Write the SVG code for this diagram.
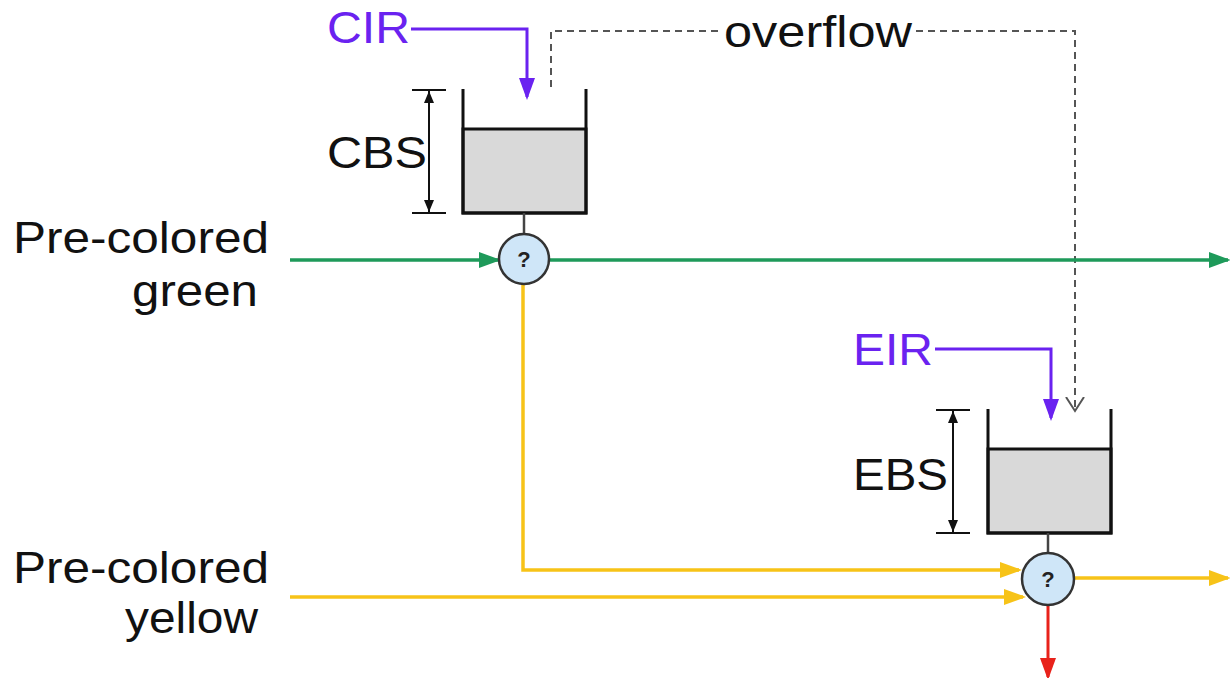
<svg xmlns="http://www.w3.org/2000/svg" width="1230" height="678" viewBox="0 0 1230 678">
  <style>
    .lbl { font-family: "Liberation Sans", Arial, sans-serif; font-size: 44px; fill: #111; }
    .pur { fill: #6a22f0; }
    .q { font-family: "Liberation Sans", Arial, sans-serif; font-size: 22px; font-weight: bold; fill: #222; text-anchor: middle; }
    .wall { fill: none; stroke: #111; stroke-width: 3; }
    .water { fill: #d9d9d9; stroke: #111; stroke-width: 3; }
    .dim { stroke: #111; stroke-width: 2; fill: none; }
    .stem { stroke: #444; stroke-width: 2.5; }
    .node { fill: #cfe6f8; stroke: #333; stroke-width: 2.5; }
    .green { stroke: #1e9a5a; stroke-width: 3.5; fill: none; }
    .yellow { stroke: #f7c318; stroke-width: 3.5; fill: none; }
    .purple { stroke: #6a22f0; stroke-width: 3; fill: none; }
    .red { stroke: #e8221b; stroke-width: 3; fill: none; }
    .dash { stroke: #555; stroke-width: 2; stroke-dasharray: 7 5; fill: none; }
  </style>
  <defs>
    <marker id="ag" markerUnits="userSpaceOnUse" markerWidth="22" markerHeight="16" refX="19" refY="8" orient="auto">
      <path d="M0,0 L22,8 L0,16 z" fill="#1e9a5a"/>
    </marker>
    <marker id="ay" markerUnits="userSpaceOnUse" markerWidth="22" markerHeight="16" refX="19" refY="8" orient="auto">
      <path d="M0,0 L22,8 L0,16 z" fill="#f7c318"/>
    </marker>
    <marker id="ap" markerUnits="userSpaceOnUse" markerWidth="22" markerHeight="16" refX="19" refY="8" orient="auto">
      <path d="M0,0 L22,8 L0,16 z" fill="#6a22f0"/>
    </marker>
    <marker id="ar" markerUnits="userSpaceOnUse" markerWidth="22" markerHeight="16" refX="19" refY="8" orient="auto">
      <path d="M0,0 L22,8 L0,16 z" fill="#e8221b"/>
    </marker>
    <marker id="ad" markerUnits="userSpaceOnUse" markerWidth="12" markerHeight="10" refX="12" refY="5" orient="auto-start-reverse">
      <path d="M0,0 L12,5 L0,10 z" fill="#111"/>
    </marker>
    <marker id="ao" markerUnits="userSpaceOnUse" markerWidth="16" markerHeight="20" refX="14" refY="10" orient="auto">
      <path d="M0,1 L14,10 L0,19" fill="none" stroke="#555" stroke-width="2"/>
    </marker>
  </defs>

  <rect width="1230" height="678" fill="#ffffff"/>

  <g id="label-green">
    <text class="lbl" x="13" y="253" textLength="256" lengthAdjust="spacingAndGlyphs">Pre-colored</text>
    <text class="lbl" x="132" y="306" textLength="126" lengthAdjust="spacingAndGlyphs">green</text>
  </g>
  <g id="label-yellow">
    <text class="lbl" x="13" y="583" textLength="256" lengthAdjust="spacingAndGlyphs">Pre-colored</text>
    <text class="lbl" x="125" y="633" textLength="133" lengthAdjust="spacingAndGlyphs">yellow</text>
  </g>

  <g id="cbs-bucket">
    <rect class="water" x="463" y="129" width="123" height="84"/>
    <path class="wall" d="M463,89 V213 H586 V89"/>
    <line class="dim" x1="412" y1="90" x2="446" y2="90"/>
    <line class="dim" x1="412" y1="213" x2="446" y2="213"/>
    <line class="dim" x1="429" y1="91" x2="429" y2="212" marker-start="url(#ad)" marker-end="url(#ad)"/>
    <text class="lbl" x="327" y="168" textLength="100" lengthAdjust="spacingAndGlyphs">CBS</text>
  </g>

  <g id="ebs-bucket">
    <rect class="water" x="988" y="449" width="123" height="84"/>
    <path class="wall" d="M988,409 V533 H1111 V409"/>
    <line class="dim" x1="936" y1="410" x2="970" y2="410"/>
    <line class="dim" x1="936" y1="533" x2="970" y2="533"/>
    <line class="dim" x1="953" y1="411" x2="953" y2="532" marker-start="url(#ad)" marker-end="url(#ad)"/>
    <text class="lbl" x="853" y="490" textLength="95" lengthAdjust="spacingAndGlyphs">EBS</text>
  </g>

  <g id="cir">
    <text class="lbl pur" x="327" y="43" textLength="83" lengthAdjust="spacingAndGlyphs">CIR</text>
  </g>
  <g id="eir">
    <text class="lbl pur" x="853" y="365" textLength="80" lengthAdjust="spacingAndGlyphs">EIR</text>
  </g>
  <g id="overflow-label">
    <text class="lbl" x="724" y="47" textLength="188" lengthAdjust="spacingAndGlyphs">overflow</text>
  </g>

  <g id="connectors">
    <line class="stem" x1="524" y1="213" x2="524" y2="234"/>
    <line class="stem" x1="1048" y1="533" x2="1048" y2="553"/>
    <path class="purple" d="M411,29 H527 V97" marker-end="url(#ap)"/>
    <path class="purple" d="M935,349 H1051 V418" marker-end="url(#ap)"/>
    <path class="dash" d="M551,87 V31 H720"/>
    <path class="dash" d="M916,31 H1075 V411" marker-end="url(#ao)"/>
    <line class="green" x1="290" y1="260" x2="498" y2="260" marker-end="url(#ag)"/>
    <line class="green" x1="549" y1="260" x2="1228" y2="260" marker-end="url(#ag)"/>
    <path class="yellow" d="M523,285 V570 H1019" marker-end="url(#ay)"/>
    <line class="yellow" x1="290" y1="597" x2="1023" y2="597" marker-end="url(#ay)"/>
    <line class="yellow" x1="1074" y1="578" x2="1228" y2="578" marker-end="url(#ay)"/>
    <line class="red" x1="1048" y1="605" x2="1048" y2="677" marker-end="url(#ar)"/>
  </g>

  <g id="node-cbs-check">
    <circle class="node" cx="524" cy="259" r="25"/>
    <text class="q" x="524" y="267">?</text>
  </g>
  <g id="node-ebs-check">
    <circle class="node" cx="1048" cy="579" r="26"/>
    <text class="q" x="1048" y="587">?</text>
  </g>
</svg>
